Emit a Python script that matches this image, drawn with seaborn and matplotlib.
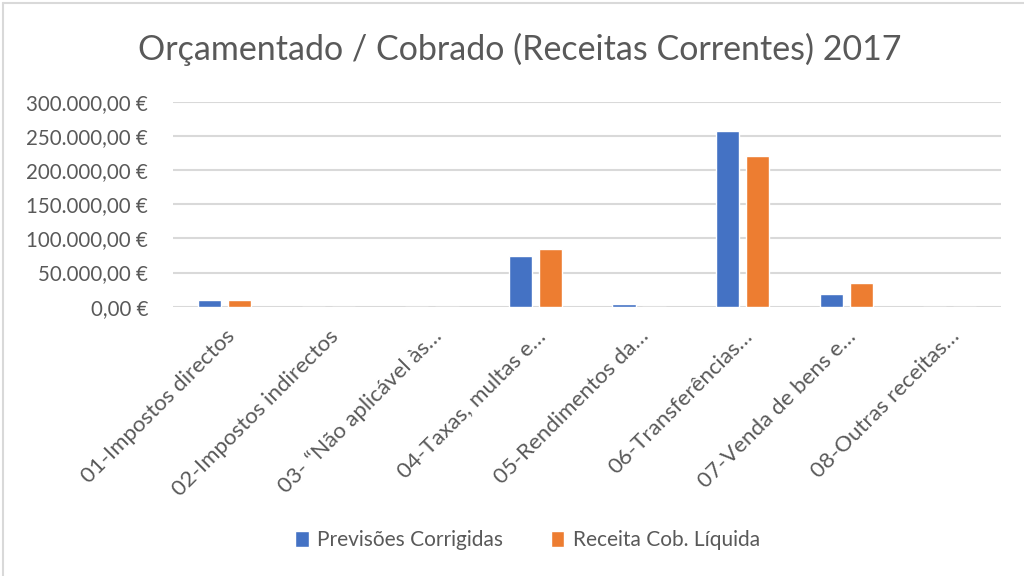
import pandas as pd
import seaborn as sns
import matplotlib.pyplot as plt
from matplotlib.ticker import FuncFormatter
from matplotlib.lines import Line2D
from matplotlib.patches import Patch

categorias = ["01-Impostos directos", "02-Impostos indirectos", "03- \u201cNão aplicável às…",
              "04-Taxas, multas e…", "05-Rendimentos da…", "06-Transferências…",
              "07-Venda de bens e…", "08-Outras receitas…"]
previsoes = [9500, 0, 0, 74200, 4000, 257300, 18600, 0]
receita = [9800, 0, 0, 84500, 0, 220700, 34700, 0]
series = ["Previsões Corrigidas", "Receita Cob. Líquida"]
cores = ["#4472C4", "#ED7D31"]

df = pd.DataFrame({
    "categoria": categorias * 2,
    "valor": previsoes + receita,
    "serie": [series[0]] * len(categorias) + [series[1]] * len(categorias),
})

sns.set_style("white")
plt.rcParams['font.family'] = ['Lato', 'DejaVu Sans']
cinza = "#595959"

fig = plt.figure(figsize=(10.24, 5.76), dpi=100)
ax = fig.add_axes([0.169, 0.4675, 0.809, 0.3555])

sns.barplot(data=df, x="categoria", y="valor", hue="serie", palette=cores,
            width=0.58, gap=0.23, saturation=1, ax=ax, legend=False)

ax.set_ylim(0, 300000)
ax.set_yticks(range(0, 300001, 50000))
ax.yaxis.set_major_formatter(FuncFormatter(
    lambda v, p: f"{v:,.2f}".replace(",", "X").replace(".", ",").replace("X", ".") + " €"))
ax.grid(axis="y", color="#d9d9d9", lw=1.5)
ax.set_axisbelow(True)
for s in ax.spines.values():
    s.set_visible(False)
ax.set_xlabel("")
ax.set_ylabel("")
ax.tick_params(axis="y", length=0, pad=18, labelsize=14.8, labelcolor=cinza)
ax.tick_params(axis="x", length=0, pad=14, labelsize=16, labelcolor=cinza)
plt.setp(ax.get_xticklabels(), rotation=45, ha="right", rotation_mode="anchor")

fig.text(0.508, 0.915, "Orçamentado / Cobrado (Receitas Correntes) 2017",
         ha="center", va="center", fontsize=24.5, color=cinza)

handles = [Patch(facecolor=c, label=s) for c, s in zip(cores, series)]
fig.legend(handles=handles, loc="center", bbox_to_anchor=(0.515, 0.062), ncol=2,
           frameon=False, fontsize=15, labelcolor=cinza, handlelength=0.65,
           handleheight=0.8, handletextpad=0.4, columnspacing=2.3)

fig.add_artist(Line2D([0.0034, 1], [0.994, 0.994], color="#d9d9d9", lw=1.5))
fig.add_artist(Line2D([0.0034, 0.0034], [0, 0.994], color="#d9d9d9", lw=1.5))

fig.savefig("out.png", dpi=100)
